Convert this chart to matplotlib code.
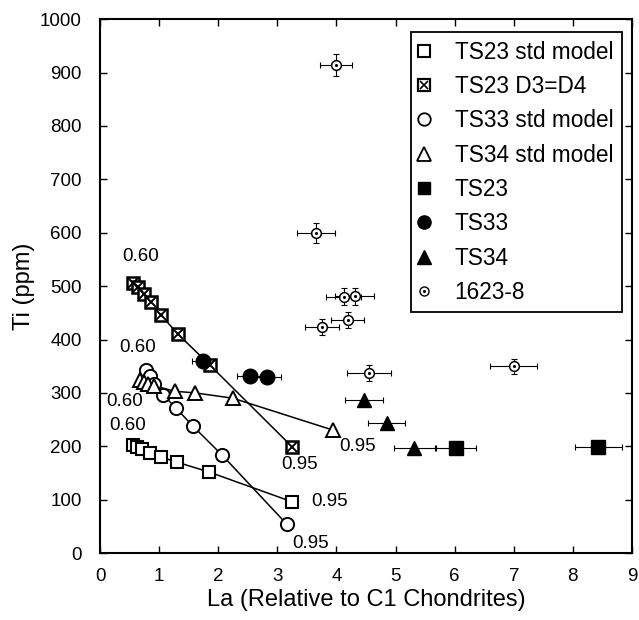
import numpy as np
import matplotlib
matplotlib.use("Agg")
import matplotlib.pyplot as plt
from matplotlib.lines import Line2D
from matplotlib.legend_handler import HandlerTuple

plt.rcParams['font.family'] = ['Liberation Sans', 'DejaVu Sans']

# model curves (fraction 0.60 -> 0.95)
ts23_std_la = [0.56, 0.63, 0.71, 0.85, 1.03, 1.31, 1.84, 3.25]
ts23_std_ti = [202, 199, 194, 188, 180, 170, 152, 96]

ts23_d3_la = [0.56, 0.65, 0.74, 0.86, 1.03, 1.32, 1.86, 3.25]
ts23_d3_ti = [505, 498, 486, 471, 446, 410, 352, 199]

ts33_std_la = [0.78, 0.84, 0.92, 1.07, 1.29, 1.57, 2.07, 3.16]
ts33_std_ti = [343, 332, 316, 296, 271, 238, 183, 54]

ts34_std_la = [0.68, 0.74, 0.82, 0.92, 1.27, 1.61, 2.25, 3.95]
ts34_std_ti = [324, 321, 317, 313, 303, 300, 290, 230]

# measured samples
ts23_la = [6.02, 8.43]
ts23_ti = [196, 199]
ts23_la_err = [0.34, 0.40]

ts33_la = [1.75, 2.53, 2.82]
ts33_ti = [360, 332, 330]
ts33_la_err = [0.20, 0.22, 0.25]

ts34_la = [4.47, 4.85, 5.32]
ts34_ti = [286, 243, 196]
ts34_la_err = [0.32, 0.31, 0.35]

s1623_la = [3.99, 3.65, 4.12, 4.31, 4.19, 3.76, 4.55, 7.00]
s1623_ti = [914, 599, 480, 481, 436, 424, 337, 350]
s1623_la_err = [0.27, 0.32, 0.30, 0.33, 0.28, 0.29, 0.37, 0.40]
s1623_ti_err = [20, 19, 16, 16, 15, 15, 15, 14]

# fraction labels at ends of the model curves
frac_text = ['0.60', '0.60', '0.60', '0.60', '0.95', '0.95', '0.95', '0.95']
frac_la = [0.68, 0.63, 0.41, 0.47, 3.37, 3.88, 3.57, 4.36]
frac_ti = [555, 385, 283, 238, 165, 96, 18, 199]

fig = plt.figure(figsize=(6.39, 6.20), dpi=100)
ax = fig.add_axes([0.1565, 0.108, 0.8325, 0.861])

ms = 9
lw = 1.1

ax.plot(ts23_std_la, ts23_std_ti, '-', color='black', lw=lw, zorder=2)
ax.plot(ts23_d3_la, ts23_d3_ti, '-', color='black', lw=lw, zorder=2)
ax.plot(ts33_std_la, ts33_std_ti, '-', color='black', lw=lw, zorder=2)
ax.plot(ts34_std_la, ts34_std_ti, '-', color='black', lw=lw, zorder=2)

ax.plot(ts23_std_la, ts23_std_ti, 's', ms=ms, mfc='white', mec='black', mew=1.5, zorder=4)
ax.plot(ts23_d3_la, ts23_d3_ti, 's', ms=ms, mfc='white', mec='black', mew=1.8, zorder=4)
ax.plot(ts23_d3_la, ts23_d3_ti, 'x', ms=ms * 0.75, mec='black', mew=1.4, zorder=5)
ax.plot(ts33_std_la, ts33_std_ti, 'o', ms=ms + 0.5, mfc='white', mec='black', mew=1.4, zorder=4)
ax.plot(ts34_std_la, ts34_std_ti, '^', ms=ms + 1, mfc='white', mec='black', mew=1.4, zorder=4)

eb = dict(fmt='none', ecolor='black', elinewidth=0.8, capsize=2.5, capthick=0.8, zorder=3)
ax.errorbar(ts23_la, ts23_ti, xerr=ts23_la_err, **eb)
ax.errorbar(ts33_la, ts33_ti, xerr=ts33_la_err, **eb)
ax.errorbar(ts34_la, ts34_ti, xerr=ts34_la_err, **eb)
ax.errorbar(s1623_la, s1623_ti, xerr=s1623_la_err, yerr=s1623_ti_err, **eb)

ax.plot(ts23_la, ts23_ti, 's', ms=ms + 1, color='black', zorder=6)
ax.plot(ts33_la, ts33_ti, 'o', ms=ms + 1.5, color='black', zorder=6)
ax.plot(ts34_la, ts34_ti, '^', ms=ms + 1.5, color='black', zorder=6)
ax.plot(s1623_la, s1623_ti, 'o', ms=7, mfc='white', mec='black', mew=1.1, zorder=6)
ax.plot(s1623_la, s1623_ti, '.', ms=2.5, color='black', zorder=7)

for t, x, y in zip(frac_text, frac_la, frac_ti):
    ax.text(x, y, t, ha='center', va='center', fontsize=13.5, zorder=8)

ax.set_xlim(0, 9)
ax.set_ylim(0, 1000)
ax.set_xticks(range(0, 10))
ax.set_yticks(range(0, 1001, 100))
ax.tick_params(direction='in', top=True, right=True, length=5, width=1,
               labelsize=13.5)
ax.tick_params(axis='x', pad=11)
ax.tick_params(axis='y', pad=13)
for sp in ax.spines.values():
    sp.set_linewidth(1.5)

ax.set_xlabel('La (Relative to C1 Chondrites)', fontsize=17, labelpad=3)
ax.set_ylabel('Ti (ppm)', fontsize=17, labelpad=4)

# legend handles
lms = 8.5
h_std23 = Line2D([], [], ls='none', marker='s', ms=lms, mfc='white', mec='black', mew=1.5)
h_d3 = (Line2D([], [], ls='none', marker='s', ms=lms, mfc='white', mec='black', mew=1.6),
        Line2D([], [], ls='none', marker='x', ms=lms * 0.75, mec='black', mew=1.2))
h_std33 = Line2D([], [], ls='none', marker='o', ms=lms + 0.5, mfc='white', mec='black', mew=1.3)
h_std34 = Line2D([], [], ls='none', marker='^', ms=lms + 1, mfc='white', mec='black', mew=1.3)
h_23 = Line2D([], [], ls='none', marker='s', ms=lms + 0.5, color='black')
h_33 = Line2D([], [], ls='none', marker='o', ms=lms + 1, color='black')
h_34 = Line2D([], [], ls='none', marker='^', ms=lms + 1, color='black')
h_1623 = (Line2D([], [], ls='none', marker='o', ms=6.5, mfc='white', mec='black', mew=1.0),
          Line2D([], [], ls='none', marker='.', ms=2.5, color='black'))

leg = ax.legend([h_std23, h_d3, h_std33, h_std34, h_23, h_33, h_34, h_1623],
                ['TS23 std model', 'TS23 D3=D4', 'TS33 std model', 'TS34 std model',
                 'TS23', 'TS33', 'TS34', '1623-8'],
                handler_map={tuple: HandlerTuple(ndivide=1, pad=0)},
                loc='upper right', bbox_to_anchor=(0.981, 0.976), borderaxespad=0,
                fontsize=16.3, labelspacing=0.5, handlelength=0.35, handletextpad=1.2,
                borderpad=0.38, fancybox=False, framealpha=1, edgecolor='black')
leg.get_frame().set_linewidth(1.3)
leg.set_zorder(10)

fig.savefig('out.png', dpi=100)
